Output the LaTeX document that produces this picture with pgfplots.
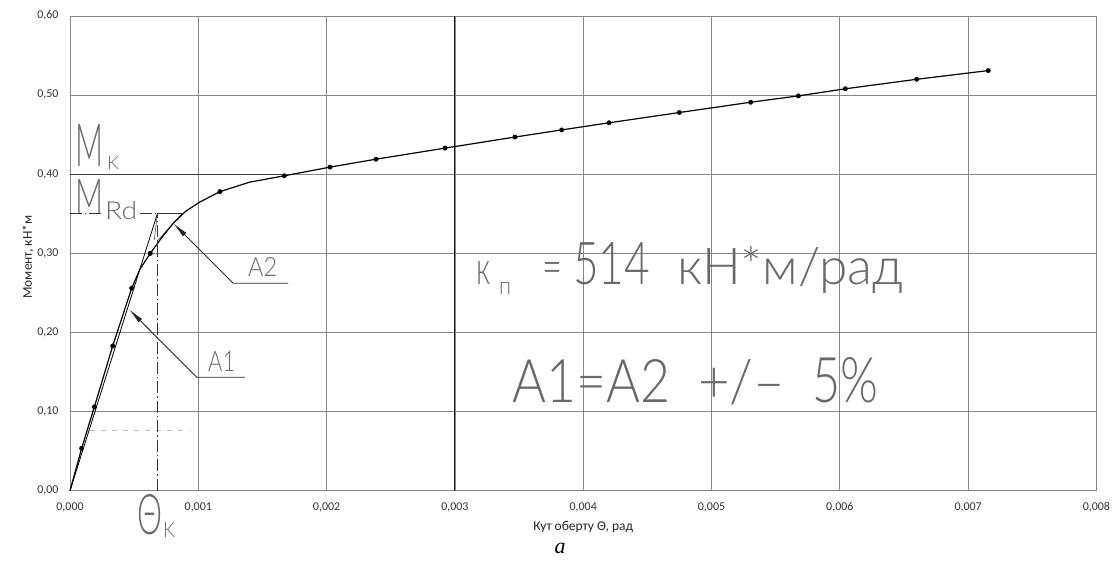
\documentclass[border=0pt]{standalone}
\usepackage{fontspec}
\setmainfont{Carlito}
\newfontfamily\cad{Lato Light}
\newfontfamily\tms{Liberation Serif}
\usepackage{graphicx}
\usepackage{pgfplots}
\pgfplotsset{compat=1.18}
\usetikzlibrary{arrows.meta}
\definecolor{gridc}{RGB}{135,135,135}
\definecolor{cadc}{RGB}{105,105,105}
\newcommand{\cadbox}[3]{\resizebox{#1bp}{#2bp}{\cad #3}}
\begin{document}
\begin{tikzpicture}
\path[use as bounding box] (-70bp,-80.3bp) rectangle (1046bp,490.7bp);
\begin{axis}[
  at={(0,0)}, anchor=south west, scale only axis,
  width=1026.5bp, height=474.7bp,
  xmin=0, xmax=0.008, ymin=0, ymax=0.6,
  xtick={0,0.001,0.002,0.003,0.004,0.005,0.006,0.007,0.008},
  xticklabels={{0,000},{0,001},{0,002},{0,003},{0,004},{0,005},{0,006},{0,007},{0,008}},
  ytick={0,0.1,0.2,0.3,0.4,0.5,0.6},
  yticklabels={{0,00},{0,10},{0,20},{0,30},{0,40},{0,50},{0,60}},
  scaled x ticks=false, scaled y ticks=false,
  typeset ticklabels with strut,
  ticklabel style={font=\fontsize{12}{14}\selectfont, text=black!80},
  xticklabel style={yshift=-7bp},
  yticklabel style={xshift=-8bp},
  major tick length=0pt,
  grid=major, major grid style={gridc, line width=0.8bp},
  axis line style={gridc, line width=0.8bp},
  xlabel={Кут оберту Θ, рад}, ylabel={Момент, кН*м},
  label style={font=\fontsize{13.5}{15}\selectfont, text=black!85},
  xlabel style={at={(axis description cs:0.5,-0.0758)}, anchor=center},
  ylabel style={at={(axis description cs:-0.0409,0.492)}, anchor=center},
  clip=false,
]
% darker grid line at 0.003 and M_K level line
\addplot[black!90, line width=0.9bp, forget plot] coordinates {(0.003,0) (0.003,0.6)};
\addplot[black!75, line width=0.9bp, forget plot] coordinates {(0,0.4) (0.00167,0.4)};
% faint dashed line
\addplot[black!25, line width=0.8bp, dash pattern=on 5bp off 6bp, forget plot] coordinates {(0.000156,0.076) (0.000935,0.076)};
% dash-dot construction lines
\addplot[black!80, line width=0.8bp, dash pattern=on 12bp off 3bp on 1.5bp off 3bp, forget plot] coordinates {(0,0.35) (0.000257,0.35)};
\addplot[black!80, line width=0.8bp, dash pattern=on 12bp off 3bp on 1.5bp off 3bp, forget plot] coordinates {(0.000545,0.35) (0.000681,0.35)};
\addplot[black!80, line width=0.8bp, dash pattern=on 12bp off 3bp on 1.5bp off 3bp, forget plot] coordinates {(0.000681,0) (0.000681,0.35)};
% initial stiffness line
\addplot[black, line width=0.8bp, forget plot] coordinates {(0,0) (0.000681,0.35)};
\addplot[black!80, line width=0.7bp, forget plot] coordinates {(0.000681,0.35) (0.00087,0.35)};
\addplot[black!70, line width=0.6bp, forget plot] coordinates {(0.00087,0.3497) (0.000688,0.3169)};
\addplot[black!70, line width=0.6bp, forget plot] coordinates {(0.000681,0.35) (0.000657,0.317)};
% moment-rotation curve
\addplot[black, line width=1.2bp, forget plot] coordinates {
 (0,0) (0.000091,0.0536) (0.000190,0.106) (0.000333,0.183) (0.000481,0.256)
 (0.000545,0.280) (0.000626,0.300) (0.000720,0.321) (0.000805,0.338) (0.000900,0.353)
 (0.001013,0.365) (0.001169,0.378) (0.001400,0.390) (0.001670,0.398) (0.002027,0.409)
 (0.002385,0.419) (0.002923,0.433) (0.003468,0.447) (0.003832,0.456) (0.004201,0.465)
 (0.004749,0.478) (0.005305,0.491) (0.005677,0.499) (0.006043,0.508) (0.006599,0.520)
 (0.007157,0.531)};
\addplot[only marks, mark=*, mark size=2.2bp, black, forget plot] coordinates {
 (0.000091,0.0536) (0.000190,0.106) (0.000333,0.183) (0.000481,0.256)
 (0.000626,0.300) (0.001169,0.378) (0.001670,0.398) (0.002027,0.409)
 (0.002385,0.419) (0.002923,0.433) (0.003468,0.447) (0.003832,0.456) (0.004201,0.465)
 (0.004749,0.478) (0.005305,0.491) (0.005677,0.499) (0.006043,0.508) (0.006599,0.520)
 (0.007157,0.531)};
\end{axis}
\begin{scope}[shift={(-70bp,490.7bp)}, x=1bp, y=-1bp]
  % leaders
  \draw[black!85, line width=0.9bp, -{Latex[length=16bp,width=5bp]}] (288.3,283.3) -- (233.3,283.3) -- (173.3,223.3);
  \draw[black!85, line width=0.9bp, -{Latex[length=16bp,width=5bp]}] (245,377.3) -- (196.7,377.3) -- (129,309.3);
  \node[anchor=base west, inner sep=0, text=cadc] at (248,277) {\cadbox{29}{19}{A2}};
  \node[anchor=base west, inner sep=0, text=cadc] at (208,372) {\cadbox{27}{20}{A1}};
  % M labels
  \node[anchor=base west, inner sep=0, text=cadc] at (75,167) {\cadbox{28}{42}{M}};
  \node[anchor=base west, inner sep=0, text=cadc] at (107,170) {\cadbox{12}{13}{K}};
  \node[anchor=base west, inner sep=0, text=cadc] at (75,214) {\cadbox{28}{34}{M}};
  \node[anchor=base west, inner sep=0, text=cadc] at (105,220) {\cadbox{32}{18}{Rd}};
  % theta_K
  \node[anchor=base west, inner sep=0, text=cadc] at (137,535) {\cadbox{25}{40}{Θ}};
  \node[anchor=base west, inner sep=0, text=cadc] at (163,538) {\cadbox{12}{15}{K}};
  % big text
  \node[anchor=base west, inner sep=0, text=cadc] at (476,285) {\cadbox{14}{23}{к}};
  \node[anchor=base west, inner sep=0, text=cadc] at (499,295) {\cadbox{12}{12}{п}};
  \node[anchor=base west, inner sep=0, text=cadc] at (542,285) {\cadbox{20}{22}{=}};
  \node[anchor=base west, inner sep=0, text=cadc] at (573,285) {\cadbox{77}{42}{514}};
  \node[anchor=base west, inner sep=0, text=cadc] at (677,285) {\cadbox{226}{38}{кН*м/рад}};
  \node[anchor=base west, inner sep=0, text=cadc] at (512,403) {\cadbox{158}{43}{A1=A2}};
  \node[anchor=base west, inner sep=0, text=cadc] at (698,403) {\cadbox{87}{43}{+/–}};
  \node[anchor=base west, inner sep=0, text=cadc] at (812,403) {\cadbox{66}{45}{5\%}};
  % caption
  \node[font=\tms\itshape\fontsize{22}{24}\selectfont] at (560,548) {a};
\end{scope}
\end{tikzpicture}
\end{document}
